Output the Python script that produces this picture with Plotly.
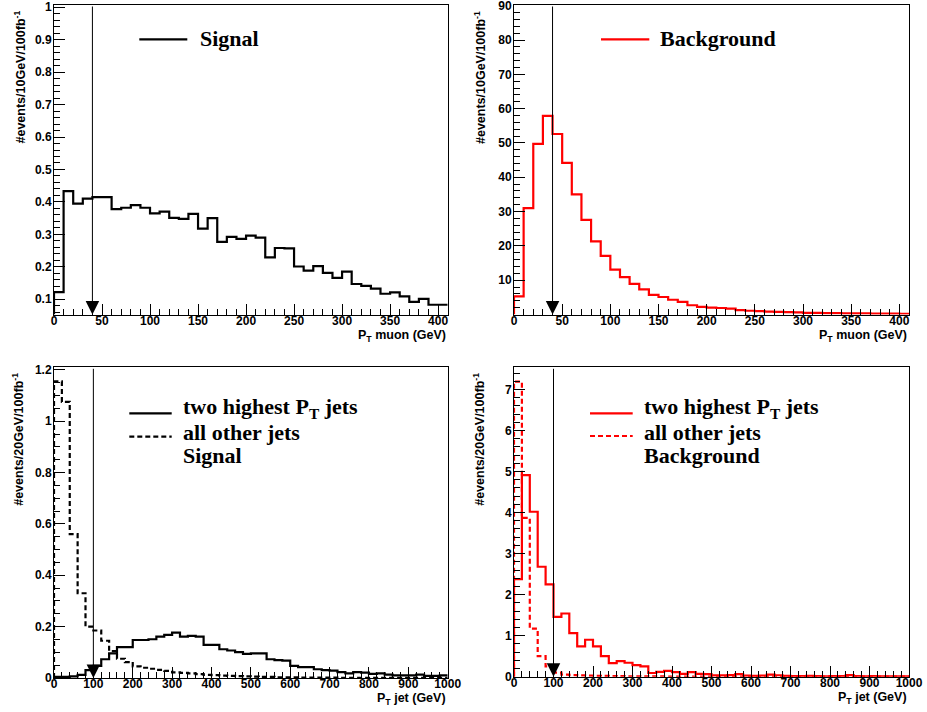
import plotly.graph_objects as go

# ---------------------------------------------------------------------------
# Histogram contents (events per bin per 100 fb^-1)
# ---------------------------------------------------------------------------
muon_edges = list(range(0, 420, 10))      # 41 bins of 10 GeV, 0..410 GeV
jet_edges = list(range(0, 1020, 20))      # 50 bins of 20 GeV, 0..1000 GeV

signal_muon_pt = [
    0.122, 0.433, 0.395, 0.410, 0.415, 0.415, 0.378, 0.382, 0.390, 0.382,
    0.365, 0.370, 0.351, 0.348, 0.363, 0.318, 0.350, 0.277, 0.292, 0.286,
    0.296, 0.290, 0.229, 0.258, 0.257, 0.201, 0.188, 0.202, 0.181, 0.166,
    0.185, 0.147, 0.141, 0.133, 0.117, 0.121, 0.109, 0.092, 0.101, 0.083,
    0.083,
]

background_muon_pt = [
    5.3, 31.0, 49.7, 57.9, 52.6, 44.2, 35.0, 27.6, 21.3, 17.1,
    13.1, 10.9, 8.9, 7.3, 5.7, 5.1, 4.3, 3.7, 2.7, 2.2,
    2.0, 1.9, 1.7, 1.3, 1.1, 1.0, 0.85, 0.75, 0.7, 0.6,
    0.5, 0.45, 0.42, 0.38, 0.35, 0.32, 0.3, 0.27, 0.25, 0.23,
    0.22,
]

signal_leading_jets = [
    0.004, 0.004, 0.006, 0.012, 0.031, 0.047, 0.073, 0.096, 0.120, 0.120,
    0.148, 0.148, 0.151, 0.161, 0.168, 0.177, 0.161, 0.164, 0.161, 0.129,
    0.129, 0.112, 0.107, 0.101, 0.094, 0.096, 0.096, 0.073, 0.070, 0.068,
    0.047, 0.042, 0.042, 0.034, 0.031, 0.029, 0.023, 0.018, 0.023, 0.021,
    0.016, 0.018, 0.013, 0.010, 0.010, 0.010, 0.013, 0.008, 0.008, 0.010,
]

signal_other_jets = [
    1.155, 1.075, 0.560, 0.330, 0.200, 0.185, 0.145, 0.105, 0.075, 0.062,
    0.045, 0.040, 0.036, 0.032, 0.028, 0.022, 0.020, 0.018, 0.015, 0.012,
    0.011, 0.009, 0.008, 0.007, 0.006, 0.005, 0.004, 0.004, 0.003, 0.003,
    0.003, 0.002, 0.002, 0.002, 0.002, 0.002, 0.001, 0.001, 0.001, 0.001,
    0.001, 0.001, 0.001, 0.001, 0.001, 0.001, 0.001, 0.001, 0.001, 0.001,
]

background_leading_jets = [
    2.38, 4.91, 4.02, 2.68, 2.25, 1.46, 1.54, 1.06, 0.74, 0.90,
    0.74, 0.50, 0.33, 0.38, 0.34, 0.28, 0.25, 0.09, 0.12, 0.14,
    0.11, 0.07, 0.11, 0.07, 0.065, 0.03, 0.03, 0.04, 0.065, 0.025,
    0.02, 0.025, 0.05, 0.035, 0.02, 0.015, 0.015, 0.02, 0.015, 0.01,
    0.015, 0.012, 0.04, 0.015, 0.01, 0.012, 0.01, 0.008, 0.01, 0.008,
]

background_other_jets = [
    7.19, 3.87, 1.17, 0.50, 0.25, 0.10, 0.05, 0.04, 0.03, 0.025,
    0.02, 0.018, 0.015, 0.012, 0.01, 0.01, 0.008, 0.007, 0.006, 0.005,
    0.005, 0.004, 0.004, 0.003, 0.003, 0.003, 0.002, 0.002, 0.002, 0.002,
    0.002, 0.002, 0.001, 0.001, 0.001, 0.001, 0.001, 0.001, 0.001, 0.001,
    0.001, 0.001, 0.001, 0.001, 0.001, 0.001, 0.001, 0.001, 0.001, 0.001,
]

# selection cuts marked with an arrow
muon_pt_cut = 40
jet_pt_cut = 100

# axis ranges and tick labels
muon_x_range = [0, 410]
jet_x_range = [0, 1000]
y_ranges = {
    "signal_muon": [0.053, 1.007],
    "background_muon": [0, 90.2],
    "signal_jets": [0, 1.21],
    "background_jets": [0, 7.54],
}
muon_x_ticks = [0, 50, 100, 150, 200, 250, 300, 350, 400]
jet_x_ticks = [0, 100, 200, 300, 400, 500, 600, 700, 800, 900, 1000]
signal_muon_y_ticks = [0.1, 0.2, 0.3, 0.4, 0.5, 0.6, 0.7, 0.8, 0.9, 1]
background_muon_y_ticks = [10, 20, 30, 40, 50, 60, 70, 80, 90]
signal_jets_y_ticks = [0, 0.2, 0.4, 0.6, 0.8, 1, 1.2]
background_jets_y_ticks = [0, 1, 2, 3, 4, 5, 6, 7]

BLACK = "#000000"
RED = "#ff0000"
TICK_FONT = dict(family="Liberation Sans", size=12, color=BLACK, weight="bold")
TITLE_FONT = dict(family="Liberation Sans", size=12.5, color=BLACK, weight="bold")
LEGEND_FONT = dict(family="Liberation Serif", size=22, color=BLACK, weight="bold")
DASH = "5px,3px"

W, H = 927, 712
# plot frames in pixels: (left, right, top, bottom)
frames = {
    1: (54, 447.7, 5, 314.5),
    2: (514, 909, 5, 314.5),
    3: (54, 447.7, 367.3, 678),
    4: (514, 909, 367.3, 676.7),
}


def step(edges, values, base):
    """Outline of a histogram: rise from the base at the first edge, then hv steps."""
    xs = [edges[0]] + list(edges)
    ys = [base] + list(values) + [values[-1]]
    return xs, ys


fig = go.Figure()


def add_hist(n, edges, values, base, color, dash="solid"):
    xs, ys = step(edges, values, base)
    fig.add_trace(go.Scatter(
        x=xs, y=ys, mode="lines", line_shape="hv",
        line=dict(color=color, width=2.2, dash=dash),
        xaxis="x" if n == 1 else f"x{n}", yaxis="y" if n == 1 else f"y{n}",
        showlegend=False, hoverinfo="skip",
    ))


add_hist(1, muon_edges, signal_muon_pt, y_ranges["signal_muon"][0], BLACK)
add_hist(2, muon_edges, background_muon_pt, 0, RED)
add_hist(3, jet_edges, signal_other_jets, 0, BLACK, DASH)
add_hist(3, jet_edges, signal_leading_jets, 0, BLACK)
add_hist(4, jet_edges, background_other_jets, 0, RED, DASH)
add_hist(4, jet_edges, background_leading_jets, 0, RED)


def axis_common(ticks, dtick_minor, rng, standoff):
    return dict(
        range=rng, showgrid=False, zeroline=False, automargin=False,
        showline=True, linecolor=BLACK, linewidth=1, mirror=True,
        ticks="inside", ticklen=11, tickwidth=1, tickcolor=BLACK,
        tickmode="array", tickvals=ticks, ticktext=[f"{t:g}" for t in ticks],
        tickfont=TICK_FONT, ticklabelstandoff=standoff, ticklabeloverflow="allow",
        minor=dict(ticks="inside", ticklen=6, tickwidth=1, tickcolor=BLACK,
                   tick0=0, dtick=dtick_minor, showgrid=False),
    )


panel_axes = {
    1: (muon_x_ticks, 10, muon_x_range, signal_muon_y_ticks, 0.02, y_ranges["signal_muon"]),
    2: (muon_x_ticks, 10, muon_x_range, background_muon_y_ticks, 2, y_ranges["background_muon"]),
    3: (jet_x_ticks, 20, jet_x_range, signal_jets_y_ticks, 0.05, y_ranges["signal_jets"]),
    4: (jet_x_ticks, 20, jet_x_range, background_jets_y_ticks, 0.2, y_ranges["background_jets"]),
}

layout_axes = {}
for n, (xt, xm, xr, yt, ym, yr) in panel_axes.items():
    left, right, top, bottom = frames[n]
    sfx = "" if n == 1 else str(n)
    xa = axis_common(xt, xm, xr, -5)
    xa.update(domain=[left / W, right / W], anchor=f"y{sfx}")
    ya = axis_common(yt, ym, yr, -1)
    ya.update(domain=[1 - bottom / H, 1 - top / H], anchor=f"x{sfx}")
    layout_axes[f"xaxis{sfx}"] = xa
    layout_axes[f"yaxis{sfx}"] = ya

fig.update_layout(**layout_axes)

annotations = []
shapes = []

# cut arrows
for n, cut in [(1, muon_pt_cut), (2, muon_pt_cut), (3, jet_pt_cut), (4, jet_pt_cut)]:
    sfx = "" if n == 1 else str(n)
    yr = panel_axes[n][5]
    annotations.append(dict(
        x=cut, y=yr[0], ax=cut, ay=yr[1],
        xref=f"x{sfx}", yref=f"y{sfx}", axref=f"x{sfx}", ayref=f"y{sfx}",
        text="", showarrow=True, arrowhead=2, arrowsize=2.7, arrowwidth=1,
        arrowcolor=BLACK,
    ))

# axis titles
y_titles = {
    1: "#events/10GeV/100fb<sup>-1</sup>",
    2: "#events/10GeV/100fb<sup>-1</sup>",
    3: "#events/20GeV/100fb<sup>-1</sup>",
    4: "#events/20GeV/100fb<sup>-1</sup>",
}
x_titles = {
    1: "P<sub>T</sub> muon (GeV)",
    2: "P<sub>T</sub> muon (GeV)",
    3: "P<sub>T</sub> jet (GeV)",
    4: "P<sub>T</sub> jet (GeV)",
}
y_title_x = {1: 19, 2: 479.5, 3: 18, 4: 479}
for n in range(1, 5):
    sfx = "" if n == 1 else str(n)
    annotations.append(dict(
        text=y_titles[n], textangle=-90, showarrow=False,
        xref="paper", x=y_title_x[n] / W, xanchor="center",
        yref=f"y{sfx} domain", y=1, yanchor="top", yshift=-4,
        font=TITLE_FONT,
    ))
    annotations.append(dict(
        text=x_titles[n], showarrow=False,
        xref=f"x{sfx} domain", x=1, xanchor="right",
        yref=f"y{sfx} domain", y=0, yanchor="top", yshift=-11,
        font=TITLE_FONT,
    ))

# legends: line samples and labels (positions in pixel space of the page)
legend_entries = [
    # panel, sample x0, x1, y, colour, dash, label, label x, label y
    (1, 139.3, 187.3, 39.3, BLACK, "solid", "Signal", 198, 38.5),
    (2, 601.0, 649.3, 39.3, RED, "solid", "Background", 658, 38.5),
    (3, 129.3, 171.7, 413.3, BLACK, "solid", "two highest P<sub>T</sub> jets", 181, 407.5),
    (3, 129.3, 171.7, 436.7, BLACK, "dash", "all other jets", 181, 433),
    (3, None, None, None, None, None, "Signal", 181, 455),
    (4, 590.0, 632.7, 413.3, RED, "solid", "two highest P<sub>T</sub> jets", 642, 407.5),
    (4, 590.0, 632.7, 436.0, RED, "dash", "all other jets", 642, 433),
    (4, None, None, None, None, None, "Background", 642, 455),
]
for n, x0, x1, y, color, dash, label, lx, ly in legend_entries:
    if x0 is not None:
        shapes.append(dict(
            type="line", xref="paper", yref="paper",
            x0=x0 / W, x1=x1 / W, y0=1 - y / H, y1=1 - y / H,
            line=dict(color=color, width=2.2, dash=DASH if dash == "dash" else "solid"),
        ))
    annotations.append(dict(
        text=label, showarrow=False, xref="paper", yref="paper",
        x=lx / W, y=1 - ly / H, xanchor="left", yanchor="middle",
        font=LEGEND_FONT,
    ))

fig.update_layout(
    width=W, height=H,
    margin=dict(l=0, r=0, t=0, b=0),
    paper_bgcolor="white", plot_bgcolor="white",
    showlegend=False,
    annotations=annotations, shapes=shapes,
)

fig.write_html("out.html")
